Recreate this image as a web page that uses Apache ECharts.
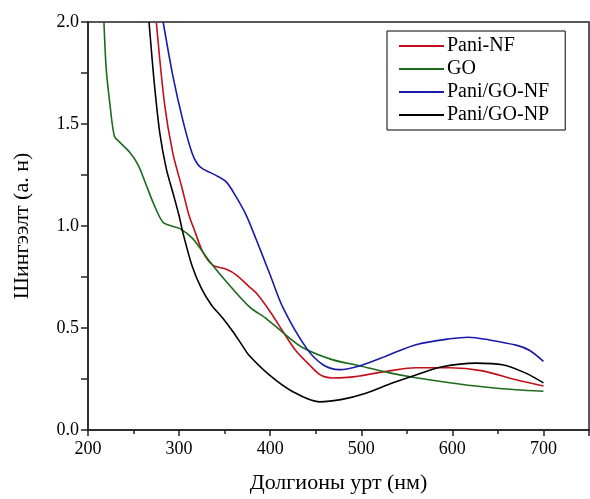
<!DOCTYPE html>
<html><head><meta charset="utf-8">
<script src="https://cdn.jsdelivr.net/npm/echarts@6/dist/echarts.min.js"></script>
<style>html,body{margin:0;padding:0;background:#fff}#c{width:590px;height:499px}</style>
</head><body><div id="c"></div>
<script>
const seriesNames = ['Pani-NF', 'GO', 'Pani/GO-NF', 'Pani/GO-NP'];
const xTickLabels = [200, 300, 400, 500, 600, 700];
const yTickLabels = [0.0, 0.5, 1.0, 1.5, 2.0];

const redX = [275, 284, 293, 303, 311, 316, 326, 337, 352, 363, 377, 385, 400, 414, 428, 443, 455, 468, 485, 498, 531, 560, 597, 633, 670, 700];
const redY = [2.0, 1.60, 1.36, 1.19, 1.05, 0.99, 0.873, 0.808, 0.788, 0.759, 0.702, 0.67, 0.58, 0.483, 0.39, 0.32, 0.27, 0.255, 0.258, 0.265, 0.29, 0.305, 0.305, 0.29, 0.246, 0.216];

const greenX = [217.5, 220, 224, 229, 235, 246, 255, 264, 272, 282, 292, 301, 315, 334, 352, 377, 396, 416, 436, 468, 498, 531, 560, 597, 633, 670, 700];
const greenY = [2.0, 1.77, 1.60, 1.44, 1.41, 1.36, 1.30, 1.20, 1.11, 1.02, 1.0, 0.987, 0.938, 0.824, 0.727, 0.605, 0.545, 0.47, 0.403, 0.345, 0.315, 0.28, 0.256, 0.232, 0.212, 0.197, 0.19];

const blueX = [282.5, 293, 304, 314, 320, 326, 341, 352, 363, 374, 385, 400, 414, 440, 458, 476, 498, 531, 560, 597, 618, 640, 670, 685, 700];
const blueY = [2.0, 1.74, 1.52, 1.36, 1.305, 1.28, 1.247, 1.215, 1.14, 1.05, 0.93, 0.76, 0.60, 0.40, 0.32, 0.296, 0.314, 0.369, 0.418, 0.447, 0.455, 0.442, 0.416, 0.39, 0.336];

const blackX = [267, 273, 279, 286, 294, 300, 304, 314, 324.5, 335.5, 348, 359, 370, 377, 399, 424, 454, 479, 505, 534, 560, 589, 626, 655, 680, 700];
const blackY = [2.0, 1.69, 1.45, 1.28, 1.15, 1.05, 0.97, 0.808, 0.694, 0.613, 0.548, 0.483, 0.41, 0.365, 0.27, 0.19, 0.138, 0.15, 0.18, 0.23, 0.27, 0.31, 0.328, 0.32, 0.28, 0.231];

const colors = ['#c0101a', '#1c6b1c', '#1a1aa8', '#000000'];
const xs = [redX, greenX, blueX, blackX];
const ys = [redY, greenY, blueY, blackY];

const font = 'Liberation Serif';
const chart = echarts.init(document.getElementById('c'));
chart.setOption({
  animation: false,
  grid: { left: 88, right: 1, top: 22, bottom: 67, show: true, borderColor: '#222', borderWidth: 1.5, backgroundColor: 'transparent' },
  legend: {
    data: seriesNames,
    orient: 'vertical',
    left: 387, top: 31,
    borderColor: '#000', borderWidth: 1,
    padding: [5, 16, 5, 12],
    itemWidth: 45, itemHeight: 2, itemGap: 3,
    icon: 'rect',
    textStyle: { fontFamily: font, fontSize: 20, color: '#000', padding: [0, 0, 0, -2] }
  },
  xAxis: {
    type: 'value', min: 200, max: 750, interval: 100,
    name: 'Долгионы урт (нм)', nameLocation: 'middle', nameGap: 42,
    nameTextStyle: { fontFamily: font, fontSize: 22, color: '#000' },
    axisLine: { show: true, lineStyle: { color: '#222', width: 1.5 } },
    axisTick: { show: true, length: 6, lineStyle: { color: '#222', width: 1.5 } },
    minorTick: { show: true, splitNumber: 2, length: 4, lineStyle: { color: '#222', width: 1.5 } },
    axisLabel: { fontFamily: font, fontSize: 18, color: '#000', margin: 10, showMaxLabel: false,
      formatter: v => xTickLabels.includes(v) ? String(v) : '' },
    splitLine: { show: false }
  },
  yAxis: {
    type: 'value', min: 0, max: 2, interval: 0.5,
    name: 'Шингээлт (а. н)', nameLocation: 'middle', nameGap: 55,
    nameTextStyle: { fontFamily: font, fontSize: 22, color: '#000' },
    axisLine: { show: true, lineStyle: { color: '#222', width: 1.5 } },
    axisTick: { show: true, length: 7, lineStyle: { color: '#222', width: 1.5 } },
    minorTick: { show: true, splitNumber: 2, length: 7, lineStyle: { color: '#222', width: 1.5 } },
    axisLabel: { fontFamily: font, fontSize: 18, color: '#000', margin: 9,
      formatter: v => yTickLabels.includes(v) ? v.toFixed(1) : '' },
    splitLine: { show: false }
  },
  series: seriesNames.map((n, i) => ({
    name: n, type: 'line', smooth: 0.3, showSymbol: false, symbol: 'none',
    color: colors[i],
    lineStyle: { color: colors[i], width: 1.6 },
    data: xs[i].map((x, j) => [x, ys[i][j]]),
    clip: true
  }))
});
</script></body></html>
